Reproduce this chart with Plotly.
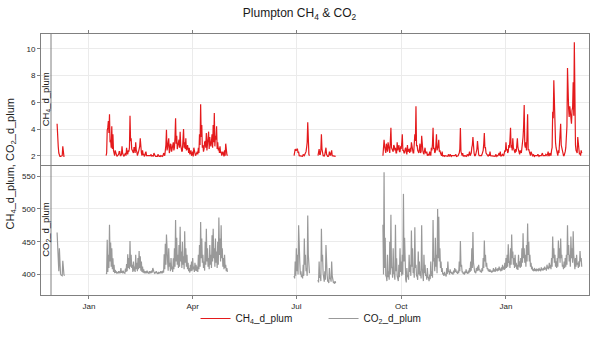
import pandas as pd
import plotly.graph_objects as go

# Start date of each continuous logging run
segment_start = ["2015-12-04", "2016-01-16", "2016-06-29", "2016-07-20", "2016-09-15"]

# CH4 (ppm) per run, night-time readings (00:00)
ch4_dec = [4.4, 2.7, 2.0, 1.95, 1.95, 2.7, 1.95]
ch4_spring = [
    2.0, 3.9, 4.6, 5.1, 3.2, 4.2, 3.6, 2.2, 2.4, 2.1,
    2.0, 2.1, 2.3, 2.0, 2.7, 2.1, 2.0, 2.2, 2.6, 2.1,
    2.3, 5.0, 3.3, 2.4, 2.2, 2.6, 3.0, 2.3, 2.1, 2.5,
    3.3, 2.2, 2.4, 2.1, 2.0, 2.3, 2.0, 1.95, 2.0, 2.0,
    1.95, 2.0, 2.2, 2.0, 1.95, 1.95, 2.0, 1.95, 1.95, 2.0,
    2.0, 2.1, 2.4, 3.95, 2.6, 3.3, 2.4, 2.8, 2.5, 3.0,
    2.6, 4.8, 3.5, 2.7, 3.2, 3.8, 2.6, 2.4, 4.0, 3.0,
    3.3, 2.5, 2.3, 2.6, 2.2, 2.0, 2.3, 2.6, 2.2, 2.1,
    2.3, 2.6, 3.6, 5.85, 4.3, 2.8, 2.5, 3.1, 3.7, 2.9,
    3.8, 3.4, 2.7, 3.6, 4.3, 5.2, 3.5, 4.2, 3.0, 2.6,
    2.7, 2.3, 2.2, 2.1, 2.4, 2.9, 2.1,
]
ch4_jul_a = [2.0, 2.5, 2.4, 2.5, 2.3, 2.0, 1.95, 2.0, 2.1, 2.0, 2.2, 2.6, 4.5, 2.1]
ch4_jul_b = [2.0, 2.5, 2.1, 3.6, 2.2, 2.0, 2.1, 2.6, 2.0, 1.95, 2.3, 2.0, 2.4, 2.0, 1.95, 2.0]
ch4_autumn = [
    2.0, 3.2, 2.4, 2.9, 2.3, 2.6, 2.2, 4.1, 2.5, 2.3,
    2.7, 2.6, 2.2, 2.4, 2.8, 2.3, 2.5, 3.6, 2.4, 2.2,
    2.6, 2.1, 2.3, 2.5, 2.6, 3.0, 2.4, 2.2, 3.6, 5.7,
    2.8, 2.3, 2.5, 2.2, 3.5, 2.4, 2.1, 2.6, 2.2, 2.0,
    2.1, 2.3, 2.0, 2.4, 4.1, 2.6, 2.3, 3.6, 2.5, 3.2,
    2.4, 2.1, 2.3, 2.0, 1.95, 2.0, 2.0, 1.95, 2.0, 2.1,
    1.95, 2.0, 1.95, 2.0, 2.1, 1.95, 2.0, 2.2, 4.07, 2.1,
    2.2, 2.0, 1.95, 2.0, 2.1, 2.0, 2.3, 2.1, 2.6, 3.4,
    2.2, 2.0, 2.3, 3.1, 2.1, 2.0, 1.95, 2.1, 2.4, 3.7,
    2.6, 2.1, 2.0, 2.1, 2.3, 2.0, 1.95, 2.0, 2.0, 2.1,
    1.95, 2.0, 2.2, 2.3, 2.0, 2.1, 2.0, 2.4, 3.0, 2.5,
    2.3, 2.6, 4.1, 2.8, 3.3, 2.4, 2.2, 2.3, 3.3, 2.4,
    2.1, 2.3, 2.6, 3.4, 5.8, 2.6, 2.4, 5.1, 2.5, 2.2,
    2.3, 2.0, 2.1, 1.95, 2.0, 2.0, 2.1, 1.95, 2.0, 2.0,
    2.2, 2.0, 1.95, 2.1, 2.0, 2.3, 2.0, 2.1, 2.4, 5.3,
    7.65, 5.0, 2.6, 2.2, 2.4, 2.8, 4.4, 2.6, 2.1, 2.0,
    2.3, 3.1, 8.57, 5.5, 5.7, 4.8, 5.4, 7.5, 10.5, 2.8,
    2.3, 3.4, 2.5, 2.2, 2.4,
]

# CH4 (ppm) per run, midday readings (12:00)
ch4_dec_midday = [3.0, 2.2, 1.95, 1.95, 2.0, 2.1, 1.95]
ch4_spring_midday = [
    2.2, 4.1, 3.7, 3.0, 2.6, 2.5, 2.4, 2.0, 2.1, 1.95,
    2.0, 2.3, 2.0, 2.1, 2.2, 1.95, 2.1, 2.0, 2.2, 2.4,
    2.6, 3.1, 2.5, 2.2, 2.6, 2.2, 2.4, 2.0, 2.3, 2.7,
    2.4, 2.0, 2.1, 1.95, 2.2, 2.0, 1.95, 2.0, 1.95, 2.1,
    2.0, 1.95, 2.0, 1.95, 2.0, 2.1, 1.95, 2.0, 2.0, 1.95,
    2.2, 2.0, 2.8, 2.4, 3.0, 2.2, 2.9, 2.3, 2.6, 2.4,
    3.4, 2.9, 2.5, 3.0, 2.6, 2.8, 2.3, 3.1, 2.6, 2.5,
    2.4, 2.8, 2.2, 2.1, 2.4, 2.1, 1.95, 2.2, 2.0, 2.3,
    2.1, 2.2, 2.8, 3.4, 2.6, 2.3, 3.0, 2.6, 2.4, 3.2,
    2.5, 2.9, 3.1, 2.6, 3.0, 2.7, 3.2, 2.5, 2.4, 2.2,
    2.2, 2.0, 2.3, 1.95, 2.0, 2.2, 2.0,
]
ch4_jul_a_midday = [2.3, 2.4, 2.5, 2.2, 2.0, 1.95, 2.0, 1.95, 2.0, 2.1, 2.3, 3.0, 2.4, 2.0]
ch4_jul_b_midday = [2.2, 2.1, 2.4, 2.5, 2.0, 1.95, 2.3, 2.1, 1.95, 2.0, 2.1, 2.2, 2.0, 1.95, 2.0, 1.95]
ch4_autumn_midday = [
    2.5, 2.7, 2.2, 2.4, 3.0, 2.4, 3.1, 2.6, 2.3, 2.8,
    2.4, 2.2, 3.0, 2.6, 2.3, 2.7, 2.9, 2.4, 2.2, 2.5,
    2.3, 2.8, 2.4, 2.2, 2.3, 2.6, 2.2, 2.9, 3.1, 2.7,
    2.4, 2.2, 2.9, 2.3, 2.6, 2.2, 2.4, 2.2, 2.3, 2.1,
    2.0, 2.2, 2.6, 2.9, 2.5, 2.2, 2.8, 2.4, 2.7, 2.3,
    2.2, 2.0, 1.95, 2.0, 2.0, 1.95, 2.0, 2.1, 1.95, 2.0,
    2.0, 1.95, 2.0, 2.05, 1.95, 2.0, 2.1, 2.5, 2.3, 2.0,
    1.95, 2.0, 2.0, 1.95, 2.0, 2.1, 2.0, 2.2, 2.8, 2.4,
    2.0, 2.1, 2.5, 2.3, 2.0, 1.95, 2.0, 2.2, 2.9, 2.6,
    2.2, 2.0, 1.95, 2.0, 2.0, 1.95, 2.0, 2.0, 1.95, 2.0,
    2.0, 2.1, 2.0, 1.95, 2.0, 2.0, 2.2, 2.3, 2.4, 2.2,
    2.8, 3.2, 2.6, 2.4, 2.6, 2.2, 2.5, 2.8, 2.6, 2.2,
    2.4, 2.2, 2.9, 4.2, 2.8, 3.0, 3.6, 2.4, 2.3, 2.0,
    2.1, 1.95, 2.0, 2.0, 1.95, 2.0, 2.0, 2.0, 1.95, 2.1,
    2.0, 1.95, 2.0, 2.0, 2.1, 2.0, 2.2, 2.0, 2.6, 4.8,
    5.3, 3.0, 2.2, 2.0, 2.2, 3.4, 2.8, 2.2, 2.0, 2.1,
    2.6, 4.2, 5.6, 4.9, 5.3, 4.4, 5.6, 5.0, 3.4, 2.4,
    2.2, 2.6, 2.1, 2.0, 2.2,
]

# CO2 (ppm) per run, night-time readings (00:00)
co2_dec = [464, 418, 440, 401, 399, 421, 400]
co2_spring = [
    402, 453, 430, 476, 449, 440, 425, 415, 407, 404,
    403, 405, 404, 410, 404, 406, 403, 409, 416, 431,
    425, 451, 430, 415, 420, 412, 430, 418, 425, 436,
    428, 420, 412, 408, 405, 404, 406, 403, 405, 404,
    406, 410, 404, 403, 405, 402, 404, 403, 405, 404,
    406, 431, 447, 461, 420, 440, 418, 425, 412, 425,
    440, 483, 456, 430, 445, 473, 435, 450, 428, 466,
    440, 430, 418, 410, 415, 420, 425, 412, 418, 415,
    412, 430, 445, 480, 455, 430, 420, 450, 470, 440,
    425, 445, 430, 460, 470, 440, 455, 435, 450, 487,
    455, 475, 440, 425, 430, 415, 410,
]
co2_jul_a = [398, 420, 440, 430, 475, 420, 405, 400, 415, 455, 430, 410, 490, 420]
co2_jul_b = [392, 420, 400, 470, 430, 395, 405, 445, 400, 390, 410, 395, 420, 392, 388, 390]
co2_autumn = [
    476, 556, 456, 397, 430, 405, 450, 491, 412, 440,
    400, 476, 425, 395, 415, 440, 420, 430, 523, 456,
    392, 410, 400, 430, 415, 467, 440, 410, 472, 415,
    398, 435, 420, 405, 475, 397, 430, 415, 400, 410,
    395, 400, 420, 405, 483, 425, 456, 430, 500, 488,
    440, 420, 410, 402, 404, 400, 410, 420, 405, 408,
    404, 402, 406, 410, 408, 404, 406, 420, 451, 415,
    404, 402, 405, 408, 403, 406, 410, 420, 440, 465,
    408, 404, 410, 412, 415, 408, 406, 410, 425, 452,
    430, 418, 410, 408, 408, 405, 406, 410, 408, 411,
    408, 410, 412, 409, 411, 415, 412, 418, 425, 430,
    446, 420, 440, 461, 435, 425, 430, 418, 415, 430,
    420, 425, 440, 463, 440, 430, 445, 478, 450, 430,
    418, 412, 408, 410, 407, 409, 408, 410, 408, 411,
    409, 410, 412, 410, 415, 412, 418, 415, 425, 458,
    440, 430, 420, 425, 452, 440, 455, 430, 415, 420,
    425, 430, 475, 445, 430, 458, 440, 466, 415, 425,
    430, 418, 420, 436, 425,
]

# CO2 (ppm) per run, midday readings (12:00)
co2_dec_midday = [430, 405, 415, 399, 398, 405, 398]
co2_spring_midday = [
    401, 404, 410, 420, 412, 408, 404, 402, 403, 402,
    402, 403, 402, 403, 402, 403, 402, 404, 405, 410,
    408, 412, 410, 404, 406, 404, 408, 405, 408, 410,
    406, 404, 403, 402, 403, 402, 403, 402, 403, 402,
    403, 404, 402, 402, 403, 401, 402, 402, 403, 402,
    403, 408, 415, 420, 406, 412, 405, 408, 404, 408,
    412, 420, 415, 410, 412, 420, 410, 415, 408, 418,
    412, 408, 405, 403, 405, 406, 408, 404, 406, 405,
    404, 408, 412, 425, 418, 410, 406, 415, 420, 412,
    408, 415, 410, 420, 425, 412, 418, 410, 415, 430,
    420, 425, 412, 408, 410, 405, 404,
]
co2_jul_a_midday = [394, 398, 405, 400, 420, 400, 396, 394, 398, 415, 405, 398, 430, 402]
co2_jul_b_midday = [388, 395, 390, 420, 402, 389, 392, 410, 390, 387, 393, 389, 398, 388, 386, 387]
co2_autumn_midday = [
    400, 410, 398, 390, 396, 392, 400, 410, 395, 402,
    392, 405, 398, 390, 396, 404, 398, 400, 420, 410,
    388, 396, 392, 404, 398, 412, 402, 395, 410, 398,
    392, 400, 398, 394, 410, 390, 402, 398, 392, 396,
    390, 393, 398, 395, 420, 405, 412, 402, 425, 420,
    410, 404, 400, 398, 400, 397, 401, 404, 400, 403,
    401, 400, 402, 404, 403, 401, 402, 405, 412, 404,
    401, 400, 402, 403, 401, 402, 404, 406, 410, 418,
    404, 402, 405, 406, 407, 404, 403, 405, 410, 420,
    412, 408, 405, 404, 404, 403, 404, 405, 404, 406,
    405, 406, 407, 405, 406, 408, 407, 409, 410, 412,
    418, 410, 415, 425, 415, 410, 412, 408, 407, 412,
    410, 412, 418, 425, 418, 412, 420, 430, 420, 412,
    408, 406, 405, 406, 405, 406, 405, 406, 405, 407,
    406, 407, 408, 406, 409, 408, 410, 408, 412, 425,
    418, 412, 410, 412, 425, 418, 425, 412, 408, 410,
    412, 415, 430, 420, 412, 425, 418, 430, 408, 412,
    415, 410, 412, 420, 412,
]

ch4_segments = [ch4_dec, ch4_spring, ch4_jul_a, ch4_jul_b, ch4_autumn]
ch4_midday_segments = [ch4_dec_midday, ch4_spring_midday, ch4_jul_a_midday,
                       ch4_jul_b_midday, ch4_autumn_midday]
co2_segments = [co2_dec, co2_spring, co2_jul_a, co2_jul_b, co2_autumn]
co2_midday_segments = [co2_dec_midday, co2_spring_midday, co2_jul_a_midday,
                       co2_jul_b_midday, co2_autumn_midday]

ch4_ticks = [2, 4, 6, 8, 10]
co2_ticks = [400, 450, 500, 550]


def join_runs(segments, midday):
    """Interleave 00:00 and 12:00 readings and concatenate the runs,
    breaking the line between runs."""
    xs, ys = [], []
    for i, (start, vals) in enumerate(zip(segment_start, segments)):
        days = pd.date_range(start, periods=len(vals), freq="D")
        for j, (day, v) in enumerate(zip(days, vals)):
            xs.append(day)
            ys.append(v)
            xs.append(day + pd.Timedelta(hours=12))
            ys.append(midday[i][j])
        xs.append(None)
        ys.append(None)
    return xs, ys


ch4_x, ch4_y = join_runs(ch4_segments, ch4_midday_segments)
co2_x, co2_y = join_runs(co2_segments, co2_midday_segments)

RED = "#e41a1c"
GREY = "#999999"
FRAME = "#808080"
GRID = "#ebebeb"
FONT = "Liberation Sans, Arial, sans-serif"

fig = go.Figure()
fig.add_trace(go.Scatter(
    x=ch4_x, y=ch4_y, mode="lines", name="CH<sub>4</sub>_d_plum",
    line=dict(color=RED, width=1.2), xaxis="x2", yaxis="y2", connectgaps=False,
))
fig.add_trace(go.Scatter(
    x=co2_x, y=co2_y, mode="lines", name="CO<sub>2</sub>_d_plum",
    line=dict(color=GREY, width=1.2), xaxis="x", yaxis="y", connectgaps=False,
))

x_range = ["2015-11-19 21:00", "2017-03-14 21:00"]
common_x = dict(
    type="date", range=x_range, dtick="M3", tick0="2016-01-01", tickformat="%b",
    ticks="outside", ticklen=3, tickcolor=FRAME, showline=True, linecolor=FRAME,
    linewidth=1, showgrid=True, gridcolor=GRID, gridwidth=1,
    zeroline=False, tickfont=dict(size=8, color="#262626"),
)
common_y = dict(
    ticks="outside", ticklen=3, tickcolor=FRAME, showline=True, linecolor=FRAME,
    linewidth=1, mirror=True, showgrid=True, gridcolor=GRID, gridwidth=1,
    zeroline=False, tickfont=dict(size=8, color="#262626"),
)

fig.update_layout(
    width=599, height=343,
    margin=dict(l=41, r=10, t=34, b=41),
    paper_bgcolor="white", plot_bgcolor="white",
    font=dict(family=FONT, color="#1a1a1a"),
    title=dict(
        text="Plumpton CH<sub>4</sub> & CO<sub>2</sub>", x=0.5, xref="container",
        xanchor="center", y=1 - 13 / 343, yref="container", yanchor="middle",
        font=dict(size=12, color="#1a1a1a"),
    ),
    xaxis=dict(common_x, domain=[0, 1], anchor="y", mirror=False),
    xaxis2=dict(common_x, domain=[0, 1], anchor="y2", matches="x", side="top",
                showticklabels=False, mirror=True),
    yaxis=dict(common_y, domain=[0, 0.5], anchor="x", range=[368.8, 567.8],
               tickvals=co2_ticks),
    yaxis2=dict(common_y, domain=[0.5, 1], anchor="x2", range=[1.34, 11.12],
                tickvals=ch4_ticks),
    showlegend=True,
    legend=dict(
        orientation="h", x=0.282, xanchor="left", y=-0.09, yanchor="middle",
        font=dict(size=10, color="#1a1a1a"), bgcolor="rgba(0,0,0,0)",
        entrywidth=83, entrywidthmode="pixels",
    ),
)

# strip on the left of the panels
strip_edge = 10 / 548
fig.add_shape(type="line", xref="paper", yref="paper", x0=strip_edge, x1=strip_edge,
              y0=0, y1=1, line=dict(color=FRAME, width=1))
for label, ypos in [("CH<sub>4</sub>_d_plum", 0.75), ("CO<sub>2</sub>_d_plum", 0.25)]:
    fig.add_annotation(text=label, xref="paper", yref="paper", x=5 / 548, y=ypos,
                       textangle=-90, showarrow=False, xanchor="center", yanchor="middle",
                       font=dict(size=9.5, color="#1a1a1a"))

# shared y-axis title
fig.add_annotation(text="CH<sub>4</sub>_d_plum, CO<sub>2</sub>_d_plum", xref="paper",
                   yref="paper", x=-31 / 548, y=0.5, textangle=-90, showarrow=False,
                   xanchor="center", yanchor="middle", font=dict(size=11, color="#1a1a1a"))

fig.write_html("out.html")
